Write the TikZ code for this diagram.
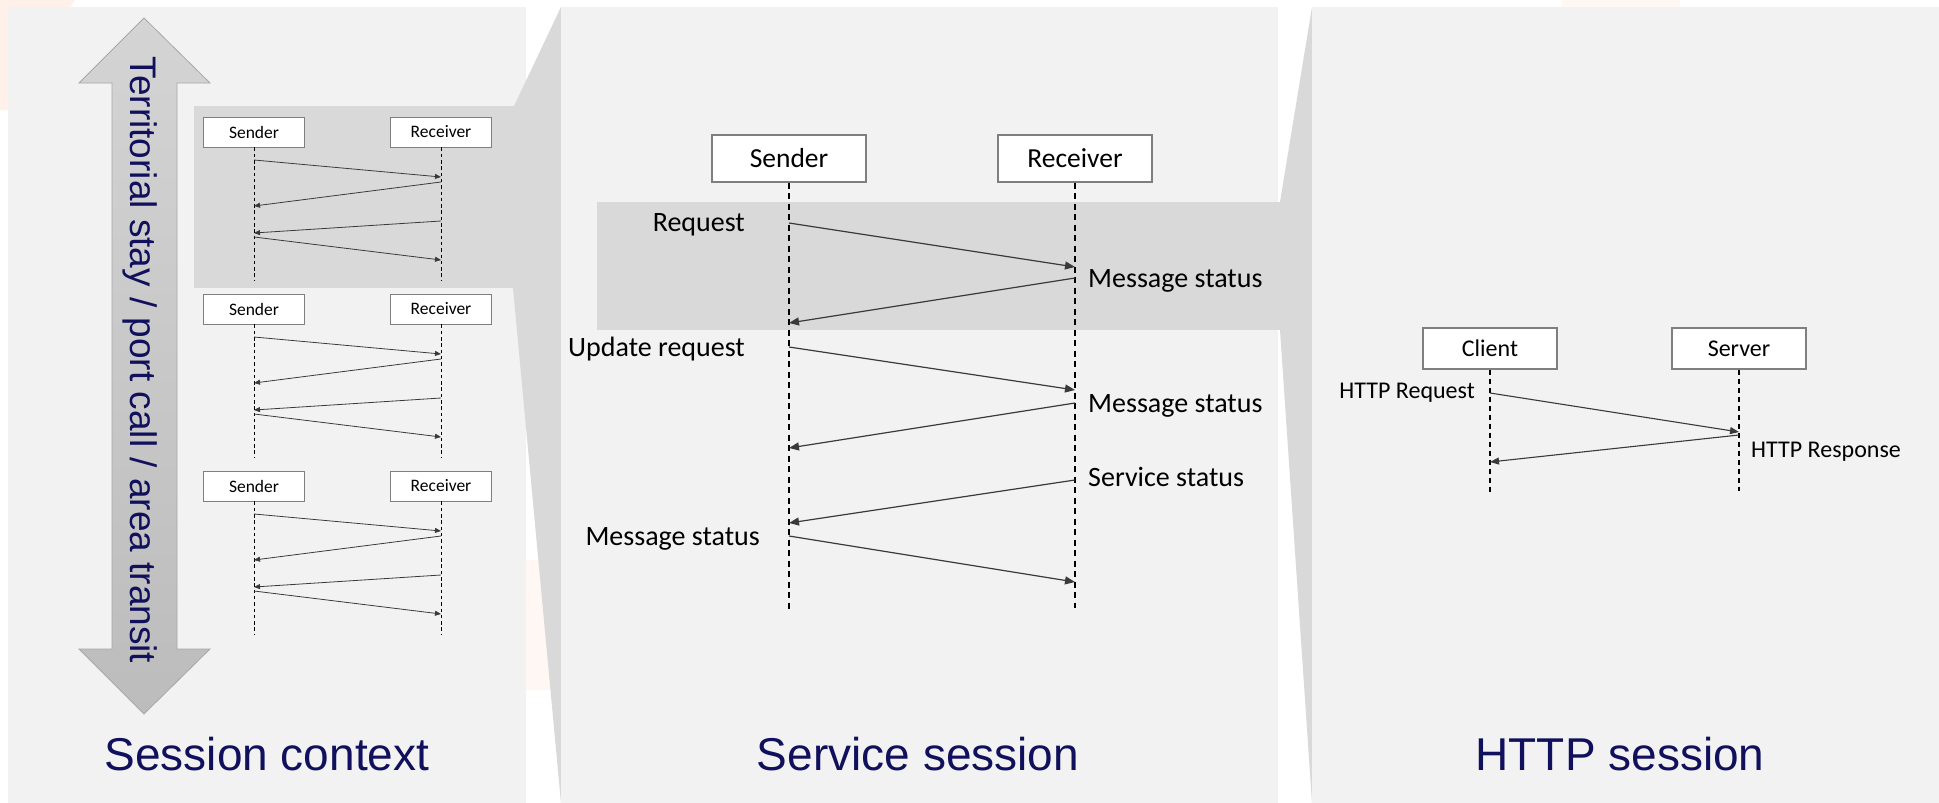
\documentclass[tikz,border=0pt]{standalone}
\usepackage{fontspec}
\setmainfont{Liberation Sans}
\newfontfamily\labelfont{Carlito}
\usetikzlibrary{arrows.meta}

\definecolor{panelgray}{HTML}{F2F2F2}
\definecolor{zoomgray}{HTML}{D9D9D9}
\definecolor{navy}{RGB}{16,16,92}
\definecolor{boxedge}{HTML}{7F7F7F}
\definecolor{msgline}{HTML}{3A3A3A}
\definecolor{tint}{RGB}{255,241,233}
\definecolor{tintpale}{RGB}{255,247,243}
\definecolor{arrowtop}{HTML}{D4D4D4}
\definecolor{arrowbottom}{HTML}{BCBCBC}
\definecolor{arrowedge}{HTML}{A8A8A8}

\begin{document}
\begin{tikzpicture}[x=1pt,y=-1pt,
  panel/.style={fill=panelgray},
  zoomarea/.style={fill=zoomgray},
  title/.style={text=navy, font=\fontsize{46}{52}\selectfont, anchor=base, inner sep=0pt},
  % lifeline boxes at three scales
  smallbox/.style={draw=boxedge, fill=white, line width=0.9pt, inner sep=0pt,
    minimum width=101pt, minimum height=30pt, font=\labelfont\fontsize{17.5}{20}\selectfont},
  bigbox/.style={draw=boxedge, fill=white, line width=1.3pt, inner sep=0pt,
    minimum width=154pt, minimum height=47pt, font=\labelfont\fontsize{27.5}{30}\selectfont},
  midbox/.style={draw=boxedge, fill=white, line width=1.2pt, inner sep=0pt,
    minimum width=134pt, minimum height=41pt, font=\labelfont\fontsize{24}{27}\selectfont},
  % dashed lifelines
  smalllife/.style={draw=black, line width=0.9pt, dash pattern=on 3.5pt off 2.8pt},
  biglife/.style={draw=black, line width=1.3pt, dash pattern=on 6pt off 4.5pt},
  midlife/.style={draw=black, line width=1.1pt, dash pattern=on 5pt off 4pt},
  % messages
  smallmsg/.style={draw=msgline, line width=0.8pt, -{Triangle[length=6pt,width=5pt]}},
  bigmsg/.style={draw=msgline, line width=1.2pt, -{Triangle[length=10pt,width=8pt]}},
  midmsg/.style={draw=msgline, line width=1.1pt, -{Triangle[length=9pt,width=7pt]}},
  biglabel/.style={font=\labelfont\fontsize{28}{31}\selectfont, inner sep=0pt},
  midlabel/.style={font=\labelfont\fontsize{24}{27}\selectfont, inner sep=0pt}
]

% page
\fill[white] (0,0) rectangle (1939,803);
\useasboundingbox (0,0) rectangle (1939,803);
\fill[tint] (0,0) -- (75,0) -- (8,110) -- (0,110) -- cycle;
\fill[tintpale] (1562,0) rectangle (1680,7);
\fill[tintpale] (526,560) rectangle (561,690);

% panels and zoom projections
\fill[panel] (8,7) rectangle (526,803);
\fill[zoomarea] (194,106) rectangle (515,288);
\fill[zoomarea] (514,106) -- (561,7) -- (561,803) -- (513,288) -- cycle;
\fill[panel] (561,7) rectangle (1278,803);
\fill[zoomarea] (597,202) rectangle (1281,330);
\fill[zoomarea] (1280,202) -- (1312,7) -- (1312,803) -- (1280,330) -- cycle;
\fill[panel] (1312,7) rectangle (1939,803);

% session span arrow
\path[draw=arrowedge, line width=0.8pt, top color=arrowtop, bottom color=arrowbottom]
  (144,18) -- (210,83) -- (177,83) -- (177,649) -- (210,649) -- (144,714)
  -- (79,649) -- (112,649) -- (112,83) -- (79,83) -- cycle;
\node[rotate=-90, anchor=base, text=navy, inner sep=0pt,
      font=\fontsize{37}{40}\selectfont] (span) at (130.5,360)
  {Territorial stay / port call / area transit};

% three compact sessions
\foreach \i/\T in {1/117,2/294,3/471}{
  \node[smallbox] (snd\i) at (254,\T+15) {Sender};
  \node[smallbox] (rcv\i) at (441,\T+15) {Receiver};
  \coordinate (snd\i-end) at (254,\T+163);
  \coordinate (rcv\i-end) at (441,\T+163);
  \draw[smalllife] (snd\i) -- (snd\i-end);
  \draw[smalllife] (rcv\i) -- (rcv\i-end);
  \coordinate (snd\i-a) at (254,\T+43);
  \coordinate (rcv\i-a) at (441,\T+60);
  \coordinate (rcv\i-b) at (441,\T+65);
  \coordinate (snd\i-b) at (254,\T+89);
  \coordinate (rcv\i-c) at (441,\T+104);
  \coordinate (snd\i-c) at (254,\T+116);
  \coordinate (snd\i-d) at (254,\T+120);
  \coordinate (rcv\i-d) at (441,\T+143);
  \draw[smallmsg] (snd\i-a) -- (rcv\i-a);
  \draw[smallmsg] (rcv\i-b) -- (snd\i-b);
  \draw[smallmsg] (rcv\i-c) -- (snd\i-c);
  \draw[smallmsg] (snd\i-d) -- (rcv\i-d);
}

% service session
\node[bigbox] (sender) at (789,158.5) {Sender};
\node[bigbox] (receiver) at (1075,158.5) {Receiver};
\coordinate (sender-end) at (789,612);
\coordinate (receiver-end) at (1075,608);
\draw[biglife] (sender) -- (sender-end);
\draw[biglife] (receiver) -- (receiver-end);
\coordinate (s1) at (789,223);  \coordinate (r1) at (1075,267);
\coordinate (r2) at (1075,278); \coordinate (s2) at (789,323);
\coordinate (s3) at (789,347);  \coordinate (r3) at (1075,390);
\coordinate (r4) at (1075,403); \coordinate (s4) at (789,448);
\coordinate (r5) at (1075,480); \coordinate (s5) at (789,523);
\coordinate (s6) at (789,536);  \coordinate (r6) at (1075,582);
\draw[bigmsg] (s1) -- (r1);
\draw[bigmsg] (r2) -- (s2);
\draw[bigmsg] (s3) -- (r3);
\draw[bigmsg] (r4) -- (s4);
\draw[bigmsg] (r5) -- (s5);
\draw[bigmsg] (s6) -- (r6);
\node[biglabel, anchor=base east] (lreq) at (745,231) {Request};
\node[biglabel, anchor=base west] (lms1) at (1088,287) {Message status};
\node[biglabel, anchor=base east] (lupd) at (745,356) {Update request};
\node[biglabel, anchor=base west] (lms2) at (1088,412) {Message status};
\node[biglabel, anchor=base west] (lsvc) at (1088,486) {Service status};
\node[biglabel, anchor=base east] (lms3) at (760,545) {Message status};

% HTTP session
\node[midbox] (client) at (1490,348.5) {Client};
\node[midbox] (server) at (1739,348.5) {Server};
\coordinate (client-end) at (1490,493);
\coordinate (server-end) at (1739,491);
\draw[midlife] (client) -- (client-end);
\draw[midlife] (server) -- (server-end);
\coordinate (c1) at (1490,393); \coordinate (v1) at (1739,432);
\coordinate (v2) at (1739,435); \coordinate (c2) at (1490,462);
\draw[midmsg] (c1) -- (v1);
\draw[midmsg] (v2) -- (c2);
\node[midlabel, anchor=base east] (lhreq) at (1475,398) {HTTP Request};
\node[midlabel, anchor=base west] (lhres) at (1751,457) {HTTP Response};

% panel titles
\node[title] (t1) at (267,770) {Session context};
\node[title] (t2) at (918,770) {Service session};
\node[title] (t3) at (1620,770) {HTTP session};
\end{tikzpicture}
\end{document}
